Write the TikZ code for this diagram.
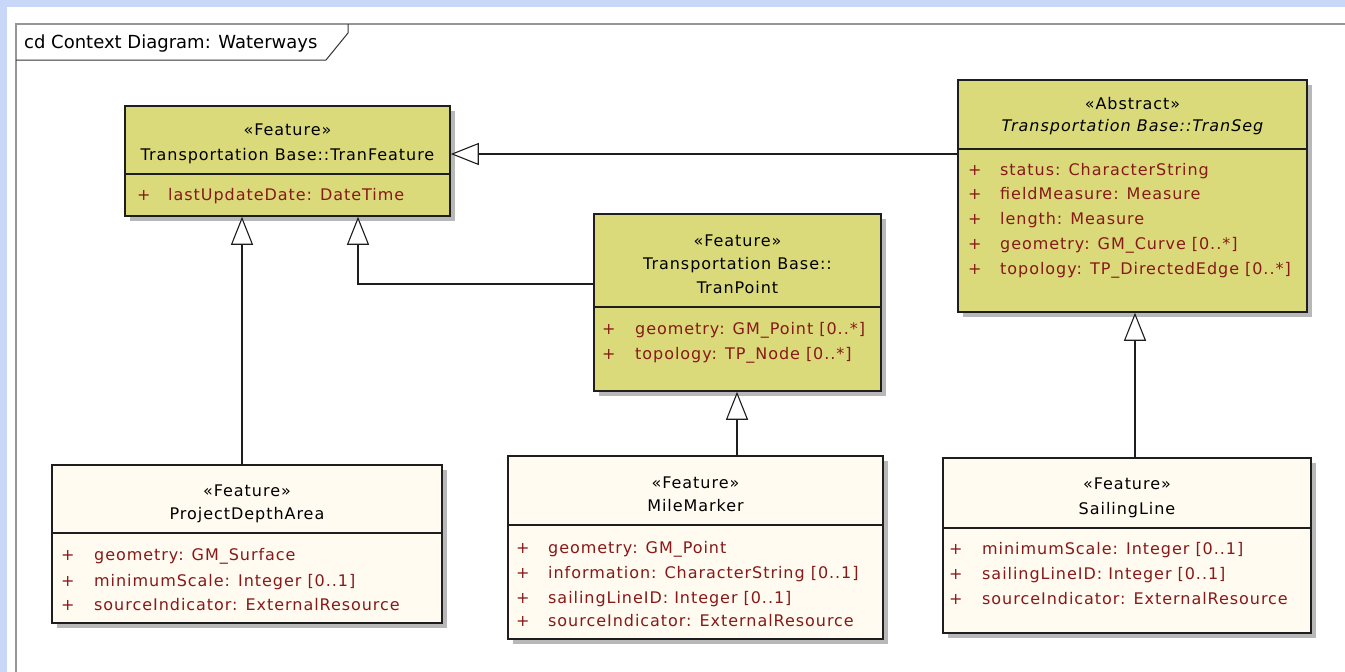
\documentclass[tikz,border=0pt]{standalone}
\usepackage{fontspec}
\newfontfamily\umlfont[LetterSpace=6]{DejaVu Sans}
\newfontfamily\framefont{DejaVu Sans}
\usetikzlibrary{arrows.meta,shadows,calc}
\definecolor{bgblue}{RGB}{200,214,248}
\definecolor{featyellow}{RGB}{218,218,122}
\definecolor{cream}{RGB}{255,251,240}
\definecolor{attrred}{RGB}{135,25,25}
\definecolor{framegray}{RGB}{150,150,150}
\definecolor{linedark}{RGB}{30,30,30}
\begin{document}
\begin{tikzpicture}[x=1pt,y=-1pt,
  cls/.style={draw=linedark, line width=1.5pt, inner sep=0pt,
    drop shadow={shadow xshift=5pt, shadow yshift=-5pt, fill=black!28, opacity=1}},
  yel/.style={cls, fill=featyellow},
  crm/.style={cls, fill=cream},
  hdr/.style={font=\umlfont\fontsize{16}{18}\selectfont, text=black, inner sep=0pt, anchor=base},
  attr/.style={font=\umlfont\fontsize{16}{18}\selectfont, text=attrred, inner sep=0pt, anchor=base west},
  gen/.style={draw=linedark, line width=1.5pt,
    -{Triangle[length=28pt, width=22pt, line width=1.1pt, fill=white]}},
  divline/.style={draw=linedark, line width=1.6pt}]
\useasboundingbox (0,0) rectangle (1345,672);
\fill[bgblue] (0,0) rectangle (1345,672);
\fill[white] (7,7) rectangle (1345,672);
% frame
\draw[framegray, line width=1.6pt] (16,672) -- (16,24) -- (1345,24);
\draw[black!80, line width=1pt] (16,60) -- (326,60) -- (348,33) -- (348,24);
\node[font=\framefont\fontsize{18}{20}\selectfont, anchor=base west, inner sep=0pt] (flabel) at (24,48) {cd Context Diagram: Waterways};

% boxes
\node[yel, minimum width=325pt, minimum height=110pt] (tf) at (287.5,161) {};
\node[yel, minimum width=349pt, minimum height=232pt] (ts) at (1132.5,196) {};
\node[yel, minimum width=287pt, minimum height=177pt] (tp) at (737.5,302.5) {};
\node[crm, minimum width=390pt, minimum height=158pt] (pda) at (247,544) {};
\node[crm, minimum width=375pt, minimum height=183pt] (mm) at (695.5,547.5) {};
\node[crm, minimum width=368pt, minimum height=175pt] (sl) at (1127,545.5) {};

% dividers
\draw[divline] ($(tf.north west)+(0,69)$) -- ($(tf.north east)+(0,69)$);
\draw[divline] ($(ts.north west)+(0,70)$) -- ($(ts.north east)+(0,70)$);
\draw[divline] ($(tp.north west)+(0,94)$) -- ($(tp.north east)+(0,94)$);
\draw[divline] ($(pda.north west)+(0,69)$) -- ($(pda.north east)+(0,69)$);
\draw[divline] ($(mm.north west)+(0,70)$) -- ($(mm.north east)+(0,70)$);
\draw[divline] ($(sl.north west)+(0,71)$) -- ($(sl.north east)+(0,71)$);

% connectors
\draw[gen] ([yshift=7pt]ts.west |- tf.east) -- ([yshift=7pt]tf.east);
\draw[gen] ([xshift=-5pt]pda.north) -- ([xshift=-5pt]pda.north |- tf.south);
\draw[gen] ([yshift=18.5pt]tp.west) -| ([xshift=70.5pt]tf.south);
\draw[gen] ([xshift=-0.5pt]tp.south |- mm.north) -- ([xshift=-0.5pt]tp.south);
\draw[gen] ([xshift=2.5pt]ts.south |- sl.north) -- ([xshift=2.5pt]ts.south);

% TranFeature text
\node[hdr] (tfs) at (287.5,135) {«Feature»};
\node[hdr] (tfn) at (287.5,160) {Transportation Base::TranFeature};
\node[attr] (tfp1) at (137,200) {+};
\node[attr] (tfa1) at (168,200) {lastUpdateDate: DateTime};

% TranSeg text
\node[hdr] (tss) at (1132.5,109) {«Abstract»};
\node[hdr, font=\umlfont\itshape\fontsize{16}{18}\selectfont] (tsn) at (1132.5,131) {Transportation Base::TranSeg};
\node[attr] (tsp1) at (968,175) {+};
\node[attr] (tsa1) at (1000,175) {status: CharacterString};
\node[attr] (tsp2) at (968,199) {+};
\node[attr] (tsa2) at (1000,199) {fieldMeasure: Measure};
\node[attr] (tsp3) at (968,224) {+};
\node[attr] (tsa3) at (1000,224) {length: Measure};
\node[attr] (tsp4) at (968,249) {+};
\node[attr] (tsa4) at (1000,249) {geometry: GM\_Curve [0..*]};
\node[attr] (tsp5) at (968,274) {+};
\node[attr] (tsa5) at (1000,274) {topology: TP\_DirectedEdge [0..*]};

% TranPoint text
\node[hdr] (tps) at (737.5,246) {«Feature»};
\node[hdr] (tpn1) at (737.5,269) {Transportation Base::};
\node[hdr] (tpn2) at (737.5,293) {TranPoint};
\node[attr] (tpp1) at (602,334) {+};
\node[attr] (tpa1) at (635,334) {geometry: GM\_Point [0..*]};
\node[attr] (tpp2) at (602,359) {+};
\node[attr] (tpa2) at (635,359) {topology: TP\_Node [0..*]};

% ProjectDepthArea text
\node[hdr] (pdas) at (247,496) {«Feature»};
\node[hdr] (pdan) at (247,519) {ProjectDepthArea};
\node[attr] (pdap1) at (61,560) {+};
\node[attr] (pdaa1) at (94,560) {geometry: GM\_Surface};
\node[attr] (pdap2) at (61,586) {+};
\node[attr] (pdaa2) at (94,586) {minimumScale: Integer [0..1]};
\node[attr] (pdap3) at (61,610) {+};
\node[attr] (pdaa3) at (94,610) {sourceIndicator: ExternalResource};

% MileMarker text
\node[hdr] (mms) at (695.5,488) {«Feature»};
\node[hdr] (mmn) at (695.5,511) {MileMarker};
\node[attr] (mmp1) at (516,553) {+};
\node[attr] (mma1) at (548,553) {geometry: GM\_Point};
\node[attr] (mmp2) at (516,578) {+};
\node[attr] (mma2) at (548,578) {information: CharacterString [0..1]};
\node[attr] (mmp3) at (516,603) {+};
\node[attr] (mma3) at (548,603) {sailingLineID: Integer [0..1]};
\node[attr] (mmp4) at (516,626) {+};
\node[attr] (mma4) at (548,626) {sourceIndicator: ExternalResource};

% SailingLine text
\node[hdr] (sls) at (1127,489) {«Feature»};
\node[hdr] (sln) at (1127,514) {SailingLine};
\node[attr] (slp1) at (949,554) {+};
\node[attr] (sla1) at (982,554) {minimumScale: Integer [0..1]};
\node[attr] (slp2) at (949,579) {+};
\node[attr] (sla2) at (982,579) {sailingLineID: Integer [0..1]};
\node[attr] (slp3) at (949,604) {+};
\node[attr] (sla3) at (982,604) {sourceIndicator: ExternalResource};
\end{tikzpicture}
\end{document}
